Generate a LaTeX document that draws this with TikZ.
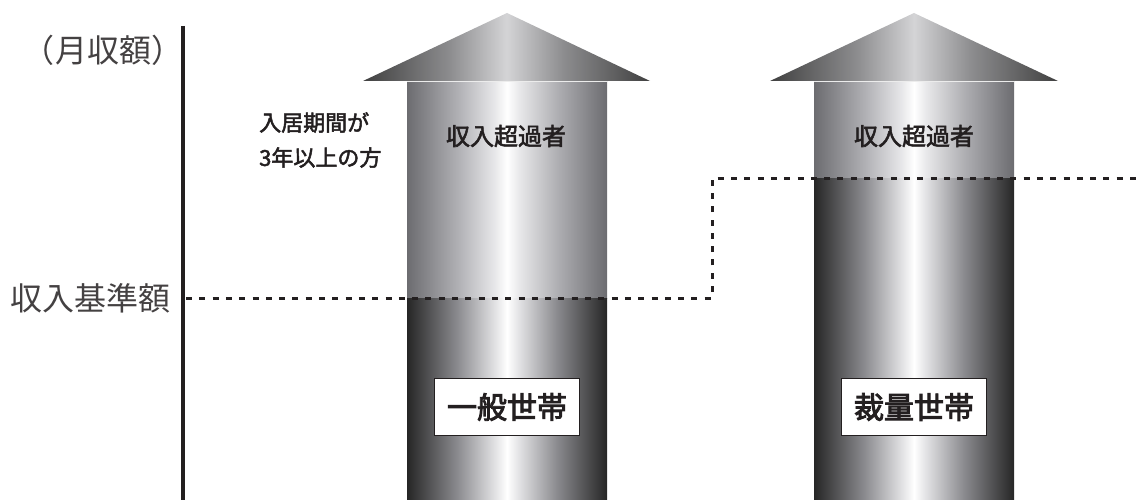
\documentclass[tikz,border=0pt]{standalone}
\usepackage{fontspec}
\newfontfamily\jp{Noto Sans CJK JP}
\newfontfamily\jpm{Noto Sans CJK JP}[FakeBold=2.2]
\newfontfamily\jpb{Noto Sans CJK JP}[FakeBold=3]
\definecolor{dA}{HTML}{262626}
\definecolor{dB}{HTML}{8A8A8E}
\definecolor{dC}{HTML}{E2E2E4}
\definecolor{lA}{HTML}{6C6C70}
\definecolor{lB}{HTML}{AFAFB3}
\definecolor{lC}{HTML}{E8E8EA}
\definecolor{hA}{HTML}{404040}
\definecolor{hB}{HTML}{8C8C8E}
\definecolor{hC}{HTML}{D4D4D6}
\definecolor{ink}{HTML}{231F20}
\pgfdeclarehorizontalshading{shaftdark}{100bp}{color(0bp)=(dA); color(25bp)=(dA); color(37.5bp)=(dB); color(47bp)=(dC); color(50bp)=(white); color(53bp)=(dC); color(62.5bp)=(dB); color(75bp)=(dA); color(100bp)=(dA)}
\pgfdeclarehorizontalshading{shaftlight}{100bp}{color(0bp)=(lA); color(25bp)=(lA); color(37.5bp)=(lB); color(47bp)=(lC); color(50bp)=(white); color(53bp)=(lC); color(62.5bp)=(lB); color(75bp)=(lA); color(100bp)=(lA)}
\pgfdeclarehorizontalshading{headshade}{100bp}{color(0bp)=(hA); color(25bp)=(hA); color(40bp)=(hB); color(50bp)=(hC); color(60bp)=(hB); color(75bp)=(hA); color(100bp)=(hA)}
\tikzset{
  axislabel/.style={font=\jp\fontsize{32}{36}\selectfont, text=ink!85, inner sep=0pt},
  overlabel/.style={font=\jpm\fontsize{24}{28}\selectfont, text=ink, inner sep=0pt},
  notelabel/.style={font=\jpm\fontsize{22}{35}\selectfont, text=ink, inner sep=0pt, align=left},
  classbox/.style={draw=ink, line width=1pt, fill=white, minimum width=145pt, minimum height=57pt, inner sep=0pt, font=\jpb\fontsize{30}{34}\selectfont, text=ink},
  limitline/.style={draw=ink, line width=3pt, dash pattern=on 6pt off 7.3pt},
}
\begin{document}
\begin{tikzpicture}[x=1pt,y=-1pt]
\useasboundingbox (0,0) rectangle (1142,500);
% axis
\coordinate (axtop) at (183,26);
\coordinate (axbot) at (183,500);
\draw[ink, line width=4.5pt] (axtop) -- (axbot);
% arrow 1
\shade[shading=shaftlight] (407,81) rectangle (607,298);
\shade[shading=shaftdark] (407,298) rectangle (607,500);
\shade[shading=headshade] (363,81) -- (507,13) -- (650,81) -- cycle;
\draw[white!85!gray, line width=0.8pt] (407,81.5) -- (607,81.5);
% arrow 2
\shade[shading=shaftlight] (814,81) rectangle (1014,178);
\shade[shading=shaftdark] (814,178) rectangle (1014,500);
\shade[shading=headshade] (770,81) -- (914,13) -- (1058,81) -- cycle;
\draw[white!85!gray, line width=0.8pt] (814,81.5) -- (1014,81.5);
% limit line
\coordinate (l0) at (186,298);
\coordinate (l1) at (712,298);
\coordinate (l2) at (712,178);
\coordinate (l3) at (1142,178);
\draw[limitline] (l0) -- (l1) -- (l2) -- (l3);
% labels
\node[axislabel] (ylab) at (103,50) {（月収額）};
\node[axislabel] (base) at (90,298) {収入基準額};
\node[notelabel, anchor=west] (note) at (259,140) {入居期間が\\3年以上の方};
\node[overlabel] (over1) at (506,136) {収入超過者};
\node[overlabel] (over2) at (914,136) {収入超過者};
\node[classbox] (gen) at (507,407) {一般世帯};
\node[classbox] (disc) at (914,407) {裁量世帯};
\end{tikzpicture}
\end{document}
